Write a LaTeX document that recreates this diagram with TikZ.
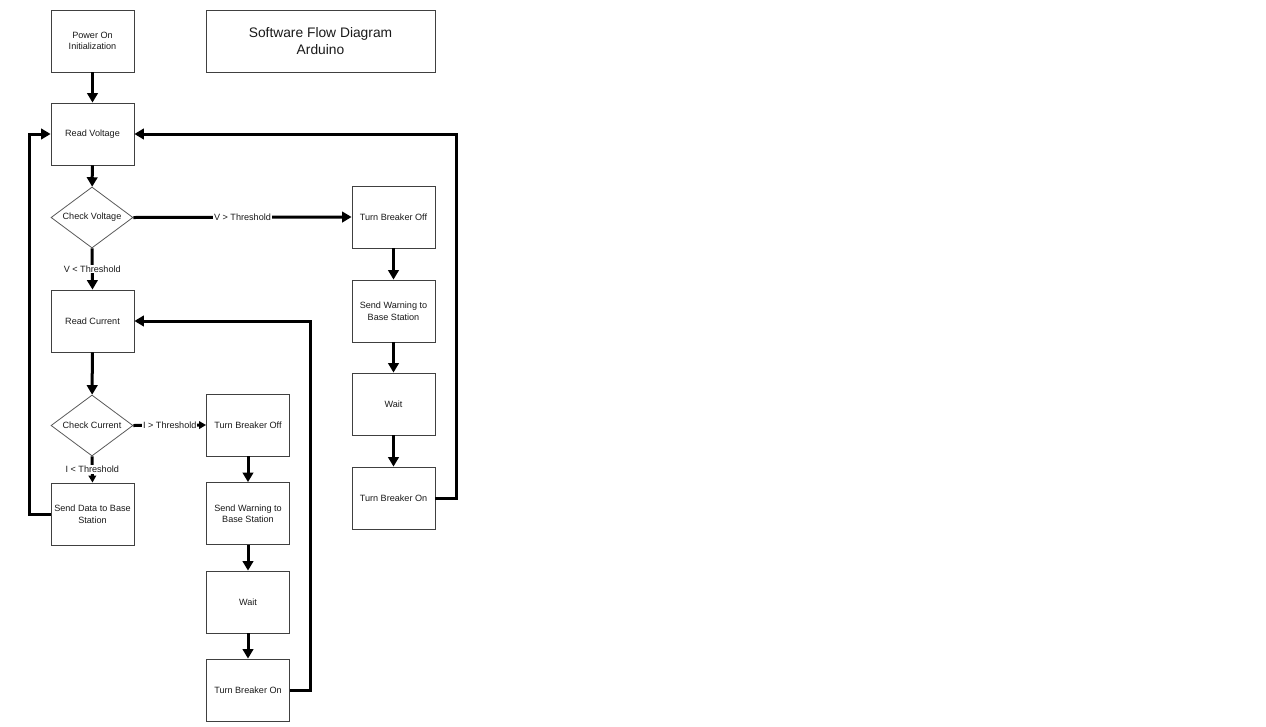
\documentclass[tikz,border=0pt]{standalone}
\usepackage{fontspec}
\setmainfont{Liberation Sans}
\usetikzlibrary{shapes.geometric,arrows.meta}
\tikzset{
  box/.style={draw=black!75, line width=0.8pt, minimum width=83pt, minimum height=62pt, inner sep=1pt, align=center, font=\fontsize{9.1}{11.5}\selectfont, text=black!90},
  dia/.style={draw=black!65, line width=0.8pt, shape=diamond, minimum width=82pt, minimum height=61pt, inner sep=0pt, font=\fontsize{9.1}{11}\selectfont, text=black!90},
  flow/.style={line width=3pt, -{Triangle[length=9.5pt,width=10.5pt]}},
  flowsm/.style={line width=3pt, -{Triangle[length=7pt,width=7.5pt]}},
  lab/.style={fill=white, inner sep=1pt, font=\fontsize{9.1}{11}\selectfont, text=black!90},
}
\begin{document}
\begin{tikzpicture}[x=1pt,y=-1pt]
\useasboundingbox (0,0) rectangle (1266,726);
\node[box] (po) at (92.5,41) {Power On\\Initialization};
\node[box, minimum width=229pt, font=\fontsize{13.8}{17}\selectfont] (title) at (320.5,41) {Software Flow Diagram\\Arduino};
\node[box] (rv) at (92.5,134) {Read Voltage};
\node[dia] (cv) at (92,217.5) {\makebox[0pt]{Check Voltage}};
\node[box] (rc) at (92.5,321) {Read Current};
\node[dia] (ci) at (92,425.5) {\makebox[0pt]{Check Current}};
\node[box] (sd) at (92.5,514) {Send Data to Base\\Station};
\node[box] (tbo1) at (393.5,217) {Turn Breaker Off};
\node[box] (sw1) at (393.5,311) {Send Warning to\\Base Station};
\node[box] (w1) at (393.5,404) {Wait};
\node[box] (tbn1) at (393.5,498) {Turn Breaker On};
\node[box] (tbo2) at (248,425) {Turn Breaker Off};
\node[box] (sw2) at (248,513.5) {Send Warning to\\Base Station};
\node[box] (w2) at (248,602) {Wait};
\node[box] (tbn2) at (248,690) {Turn Breaker On};

\draw[flow] (po) -- (rv);
\draw[flow] (rv) -- (cv);
\draw[flow] (cv.east) -- node[lab, midway] {V > Threshold} (tbo1.west);
\draw[flow] (cv.south) -- node[lab, midway] {V < Threshold} (rc.north);
\draw[flow] (rc) -- (ci);
\draw[flowsm] (ci.east) -- node[lab, midway] {I > Threshold} (tbo2.west);
\draw[flowsm] (ci.south) -- node[lab, midway] {I < Threshold} (sd.north);
\draw[flow] (tbo1) -- (sw1);
\draw[flow] (sw1) -- (w1);
\draw[flow] (w1) -- (tbn1);
\draw[flow] (tbo2) -- (sw2);
\draw[flow] (sw2) -- (w2);
\draw[flow] (w2) -- (tbn2);
\draw[flow] (sd.west) -- ++(-21,0) |- (rv.west);
\draw[flow] (tbn1.east) -- ++(21,0) |- (rv.east);
\draw[flow] (tbn2.east) -- ++(21,0) |- (rc.east);
\end{tikzpicture}
\end{document}
